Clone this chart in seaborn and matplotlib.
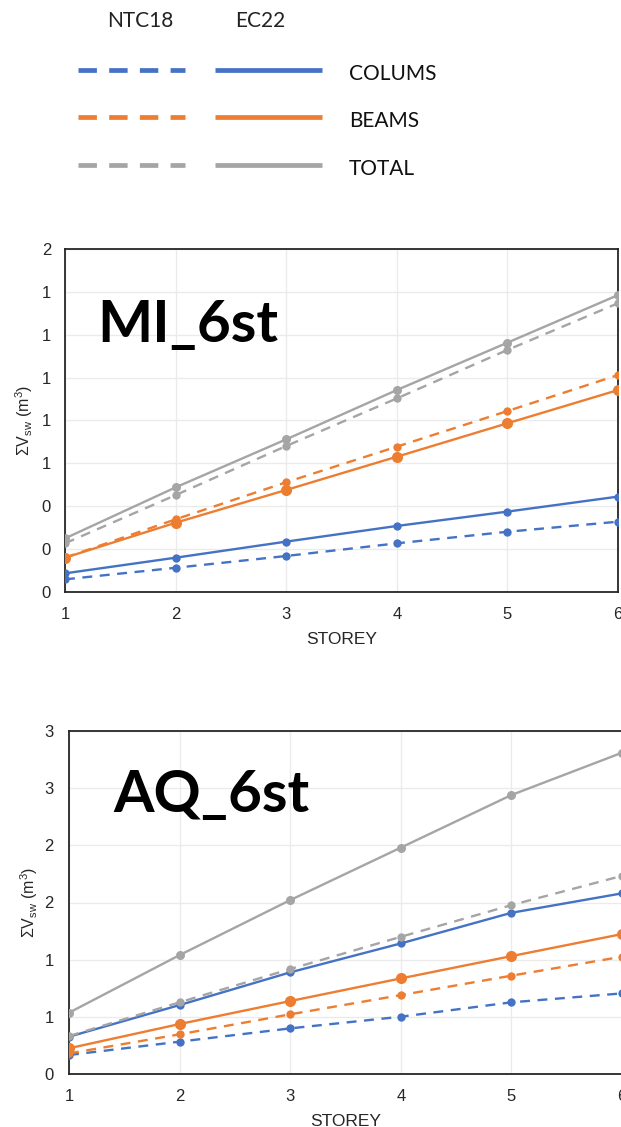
import numpy as np
import pandas as pd
import matplotlib
matplotlib.use("Agg")
import matplotlib.pyplot as plt
from matplotlib.ticker import FuncFormatter, MultipleLocator
import seaborn as sns

sns.set_theme(style="white")
plt.rcParams["font.family"] = ["Liberation Sans", "DejaVu Sans"]

# ---- data -----------------------------------------------------------------
storeys = [1, 2, 3, 4, 5, 6]

# MI_6st
mi_columns_ntc = [0.059, 0.113, 0.168, 0.227, 0.281, 0.328]
mi_columns_ec = [0.087, 0.160, 0.235, 0.308, 0.375, 0.445]
mi_beams_ntc = [0.160, 0.339, 0.512, 0.678, 0.844, 1.012]
mi_beams_ec = [0.160, 0.323, 0.476, 0.631, 0.787, 0.942]
mi_total_ntc = [0.227, 0.452, 0.681, 0.903, 1.129, 1.347]
mi_total_ec = [0.250, 0.488, 0.712, 0.942, 1.163, 1.385]

# AQ_6st
aq_columns_ntc = [0.166, 0.283, 0.399, 0.501, 0.627, 0.705]
aq_columns_ec = [0.326, 0.603, 0.889, 1.142, 1.410, 1.580]
aq_beams_ntc = [0.180, 0.347, 0.522, 0.690, 0.860, 1.026]
aq_beams_ec = [0.225, 0.437, 0.638, 0.836, 1.031, 1.224]
aq_total_ntc = [0.332, 0.627, 0.918, 1.200, 1.477, 1.733]
aq_total_ec = [0.536, 1.040, 1.521, 1.980, 2.440, 2.810]

members = ["COLUMS", "BEAMS", "TOTAL"]
codes = ["NTC18", "EC22"]

colors = {"COLUMS": "#4472C4", "BEAMS": "#ED7D31", "TOTAL": "#A5A5A5"}
marker_pt = {("COLUMS", "NTC18"): 6.0, ("COLUMS", "EC22"): 6.0,
             ("BEAMS", "NTC18"): 6.0, ("BEAMS", "EC22"): 8.0,
             ("TOTAL", "NTC18"): 6.0, ("TOTAL", "EC22"): 6.5}


def long_frame(cols_ntc, cols_ec, beams_ntc, beams_ec, tot_ntc, tot_ec):
    rows = []
    table = {("COLUMS", "NTC18"): cols_ntc, ("COLUMS", "EC22"): cols_ec,
             ("BEAMS", "NTC18"): beams_ntc, ("BEAMS", "EC22"): beams_ec,
             ("TOTAL", "NTC18"): tot_ntc, ("TOTAL", "EC22"): tot_ec}
    for (m, c), vals in table.items():
        for s, v in zip(storeys, vals):
            rows.append({"storey": s, "value": v, "member": m, "code": c})
    return pd.DataFrame(rows)


mi_df = long_frame(mi_columns_ntc, mi_columns_ec, mi_beams_ntc, mi_beams_ec,
                   mi_total_ntc, mi_total_ec)
aq_df = long_frame(aq_columns_ntc, aq_columns_ec, aq_beams_ntc, aq_beams_ec,
                   aq_total_ntc, aq_total_ec)

# ---- figure ---------------------------------------------------------------
W, H = 621, 1127
fig = plt.figure(figsize=(W / 100, H / 100), dpi=100)


def px_rect(left, top, right, bottom):
    return [left / W, 1 - bottom / H, (right - left) / W, (bottom - top) / H]


def excel_round(v, pos):
    return f"{int(np.floor(v + 0.5 + 1e-9))}"


def draw_panel(ax, df, ymax, ystep, title, title_xy, ypad, ylab_x):
    for m in members:
        for c in codes:
            sub = df[(df.member == m) & (df.code == c)]
            sns.lineplot(data=sub, x="storey", y="value", ax=ax,
                         color=colors[m], linewidth=1.7,
                         linestyle=(0, (4.2, 3.2)) if c == "NTC18" else "-",
                         marker="o", markersize=marker_pt[(m, c)],
                         markeredgewidth=0, legend=False, zorder=3)
    ax.set_xlim(1, 6)
    ax.set_ylim(0, ymax)
    ax.xaxis.set_major_locator(MultipleLocator(1))
    ax.yaxis.set_major_locator(MultipleLocator(ystep))
    ax.yaxis.set_major_formatter(FuncFormatter(excel_round))
    ax.grid(True, color="#EBEBEB", linewidth=1.0, zorder=0)
    ax.set_axisbelow(True)
    for sp in ax.spines.values():
        sp.set_color("#262626")
        sp.set_linewidth(1.3)
    ax.tick_params(axis="both", length=0, labelsize=12, colors="#262626")
    ax.tick_params(axis="y", pad=ypad)
    ax.tick_params(axis="x", pad=11)
    ax.set_xlabel("STOREY", fontsize=12.5, color="#262626", labelpad=7)
    ax.set_ylabel(r"ΣV$_{\mathregular{sw}}$ (m$^{\mathregular{3}}$)",
                  fontsize=11.5, color="#262626")
    ax.yaxis.set_label_coords(ylab_x, 0.5)
    ax.text(title_xy[0], title_xy[1], title, transform=ax.transAxes,
            fontsize=42, fontweight="bold", family=["Lato", "DejaVu Sans"],
            va="baseline", ha="left", color="black")


ax1 = fig.add_axes(px_rect(65, 249, 618, 592))
draw_panel(ax1, mi_df, 1.6, 0.2, "MI_6st", (0.058, 0.729), 10, -0.054)

ax2 = fig.add_axes(px_rect(69, 731, 622, 1074))
draw_panel(ax2, aq_df, 3.0, 0.5, "AQ_6st", (0.080, 0.763), 11, -0.052)

# ---- custom legend --------------------------------------------------------
lg = fig.add_axes([0, 1 - 200 / H, 1, 200 / H])
lg.set_xlim(0, W)
lg.set_ylim(200, 0)
lg.axis("off")
leg_font = ["Lato", "DejaVu Sans"]
lg.text(140, 21, "NTC18", ha="center", va="center", fontsize=15,
        family=leg_font, color="#222222")
lg.text(260, 21, "EC22", ha="center", va="center", fontsize=15,
        family=leg_font, color="#222222")
for m, y in zip(members, [70, 117, 165]):
    lg.plot([78, 185], [y, y], color=colors[m], linewidth=3.4,
            linestyle=(0, (3.9, 2.6)), solid_capstyle="butt",
            dash_capstyle="butt")
    lg.plot([215, 322], [y, y], color=colors[m], linewidth=3.4,
            solid_capstyle="butt")
    lg.text(349, y + 4, m, ha="left", va="center", fontsize=15,
            family=leg_font, color="#111111")

fig.savefig("out.png", dpi=100, facecolor="white")
